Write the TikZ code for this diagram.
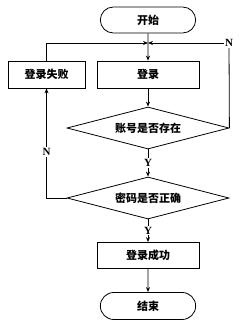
\documentclass[tikz,border=0pt]{standalone}
\usepackage{fontspec}
\setmainfont{Liberation Serif}
\newfontfamily\cjk{Noto Sans CJK SC}
\usetikzlibrary{shapes.misc,shapes.geometric,arrows.meta}

\begin{document}
\begin{tikzpicture}[x=1pt, y=-1pt, line width=0.8pt, >={Stealth[length=5pt,width=4pt]}]
      \useasboundingbox (0,0) rectangle (246,327);
      % Define styles
      \tikzset{
        term/.style={draw, rounded rectangle, minimum width=102pt, minimum height=26pt, font=\cjk\bfseries\fontsize{11}{13}\selectfont},
        proc/.style={draw, rectangle, minimum height=27pt, font=\cjk\bfseries\fontsize{11}{13}\selectfont},
        decide/.style={draw, diamond, aspect=3.9, inner sep=0pt, minimum width=162pt, minimum height=42pt, font=\cjk\bfseries\fontsize{11}{13}\selectfont},
        yn/.style={fill=white, inner sep=1pt, font=\fontsize{11}{13}\selectfont\bfseries}
      }

      % Define coordinates
      \coordinate (merge) at (148, 43);

      % Draw the boxes
      \node[term] (start) at (148, 20) {开始};
      \node[proc, minimum width=77pt] (fail) at (46.5, 74.5) {登录失败};
      \node[proc, minimum width=102pt] (login) at (148, 74.5) {登录};
      \node[decide] (user) at (148, 128) {账号是否存在};
      \node[decide] (pass) at (148, 198) {密码是否正确};
      \node[proc, minimum width=102pt, minimum height=26pt] (ok) at (148, 255.5) {登录成功};
      \node[term, minimum height=27pt] (stop) at (148, 306) {结束};
      \node[yn] (noright) at (229, 43) {N};

      % Draw main flow
      \draw[->] (start) -- (login);
      \draw[->] (login) -- (user);
      \draw[->] (user) -- node[yn] {Y} (pass);
      \draw[->] (pass) -- node[yn] {Y} (ok);
      \draw[->] (ok) -- (stop);

      % Draw the loops back
      \draw (user.east) -- (noright);
      \draw[->] (noright) -- (merge);
      \draw[->] (fail.north) |- (merge);
      \draw[->] (pass.west) -| node[yn, pos=0.71] {N} (fail.south);
    \end{tikzpicture}
\end{document}
